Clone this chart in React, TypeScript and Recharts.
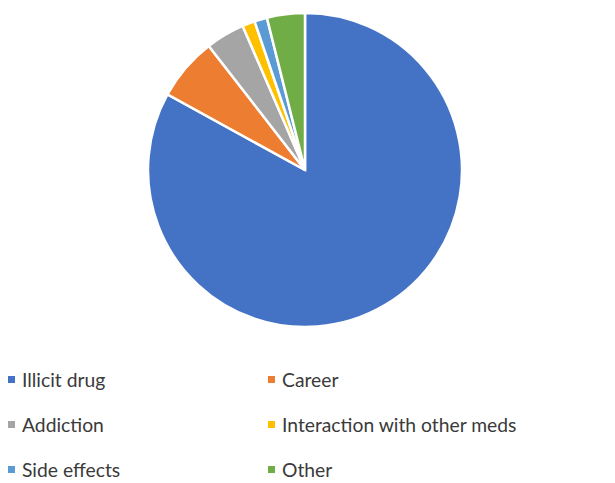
import React from "react";
import { PieChart, Pie, Cell, Legend } from "recharts";

const categories = [
  "Illicit drug",
  "Career",
  "Addiction",
  "Interaction with other meds",
  "Side effects",
  "Other",
];
const values = [83, 6.5, 4, 1.3, 1.3, 3.9];
const colors = ["#4472C4", "#ED7D31", "#A5A5A5", "#FFC000", "#5B9BD5", "#70AD47"];

const data = categories.map((name, i) => ({ name, value: values[i] }));

const LegendGrid = () => (
  <div
    style={{
      display: "grid",
      gridTemplateColumns: "260px 355px",
      rowGap: 0,
      fontFamily: "Lato, 'Liberation Sans', sans-serif",
      fontSize: 19.3,
      color: "#3a3a3a",
    }}
  >
    {categories.map((name, i) => (
      <div key={name} style={{ display: "flex", alignItems: "center", height: 45, paddingLeft: 8 }}>
        <span
          style={{
            display: "inline-block",
            width: 7,
            height: 7,
            background: colors[i],
            marginRight: 7,
          }}
        />
        <span>{name}</span>
      </div>
    ))}
  </div>
);

const App = () => {
  return (
    <div style={{ position: "absolute", left: 0, top: 0, width: 615, height: 483, background: "#fff" }}>
      <PieChart width={615} height={483} margin={{ top: 0, right: 0, bottom: 0, left: 0 }}>
        <Pie
          data={data}
          dataKey="value"
          nameKey="name"
          cx={305}
          cy={170}
          outerRadius={157}
          startAngle={90}
          endAngle={-270}
          stroke="#fff"
          strokeWidth={2.5}
          isAnimationActive={false}
        >
          {data.map((d, i) => (
            <Cell key={d.name} fill={colors[i]} />
          ))}
        </Pie>
        <Legend
          content={<LegendGrid />}
          wrapperStyle={{ position: "absolute", left: 0, top: 357, width: 615 }}
        />
      </PieChart>
    </div>
  );
};

export default App;
